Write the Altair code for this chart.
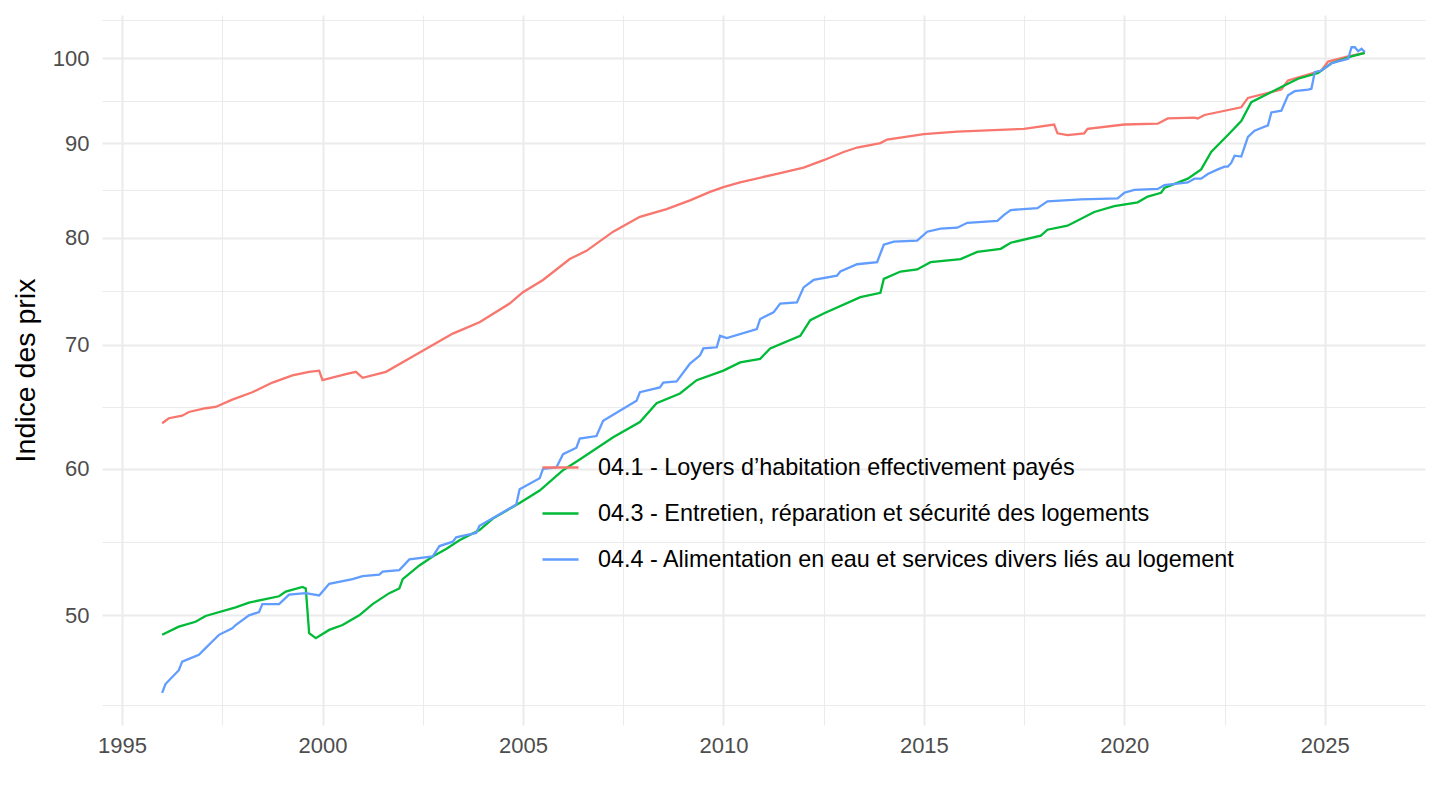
import altair as alt
import pandas as pd

series_names = [
    "04.1 - Loyers d’habitation effectivement payés",
    "04.3 - Entretien, réparation et sécurité des logements",
    "04.4 - Alimentation en eau et services divers liés au logement",
]
series_colors = ["#F8766D", "#00BA38", "#619CFF"]

loyers_dates = [
    "1996-01", "1996-03", "1996-07", "1996-09", "1997-02", "1997-05", "1997-10",
    "1998-04", "1998-10", "1999-04", "1999-09", "1999-12", "2000-01", "2000-08",
    "2000-11", "2001-01", "2001-08", "2002-04", "2002-10", "2003-04", "2003-12",
    "2004-09", "2005-01", "2005-07", "2006-03", "2006-08", "2007-04", "2007-12",
    "2008-08", "2009-03", "2009-09", "2010-01", "2010-06", "2011-06", "2012-01",
    "2012-07", "2013-01", "2013-05", "2013-12", "2014-02", "2015-01", "2015-11",
    "2017-07", "2018-04", "2018-05", "2018-08", "2019-01", "2019-02", "2020-01",
    "2020-11", "2021-02", "2021-10", "2021-11", "2022-01", "2022-12", "2023-02",
    "2023-12", "2024-02", "2024-12", "2025-02", "2025-08", "2026-01",
]
loyers_values = [
    63.5, 63.9, 64.1, 64.4, 64.7, 64.8, 65.4,
    66.0, 66.8, 67.4, 67.7, 67.8, 67.0, 67.5,
    67.7, 67.2, 67.7, 69.0, 70.0, 71.0, 72.0,
    73.7, 74.75, 75.9, 77.9, 78.7, 80.6, 82.1,
    82.9, 83.8, 84.7, 85.2, 85.7, 86.7, 87.3,
    88.1, 89.0, 89.5, 90.0, 90.4, 91.0, 91.3,
    91.6, 92.1, 91.1, 90.9, 91.1, 91.6, 92.1,
    92.2, 92.8, 92.9, 92.8, 93.2, 94.1, 95.2,
    96.2, 97.3, 98.5, 99.6, 100.25, 100.7,
]

entretien_dates = [
    "1996-01", "1996-06", "1996-11", "1997-02", "1997-11", "1998-03", "1998-12",
    "1999-02", "1999-07", "1999-08", "1999-09", "1999-11", "2000-03", "2000-07",
    "2000-12", "2001-04", "2001-09", "2001-12", "2002-01", "2002-06", "2002-10",
    "2003-02", "2003-06", "2003-12", "2004-04", "2004-12", "2005-06", "2006-01",
    "2006-06", "2007-04", "2007-12", "2008-05", "2008-12", "2009-05", "2010-01",
    "2010-06", "2010-12", "2011-03", "2011-12", "2012-03", "2012-07", "2013-06",
    "2013-12", "2014-01", "2014-06", "2014-11", "2015-03", "2015-12", "2016-05",
    "2016-12", "2017-03", "2017-12", "2018-02", "2018-08", "2019-04", "2019-10",
    "2020-05", "2020-08", "2020-12", "2021-01", "2021-08", "2021-12", "2022-03",
    "2022-08", "2022-12", "2023-03", "2023-08", "2023-12", "2024-05", "2024-11",
    "2025-03", "2025-09", "2026-01",
]
entretien_values = [
    48.8, 49.3, 49.6, 49.96, 50.5, 50.8, 51.2,
    51.5, 51.8, 51.7, 48.9, 48.6, 49.1, 49.4,
    50.0, 50.7, 51.4, 51.7, 52.3, 53.2, 53.8,
    54.3, 54.9, 55.6, 56.4, 57.5, 58.4, 59.9,
    60.7, 62.4, 63.6, 65.1, 65.9, 67.0, 67.8,
    68.5, 68.8, 69.7, 70.8, 72.2, 72.8, 74.3,
    74.7, 76.0, 76.7, 76.9, 77.6, 77.9, 78.6,
    78.9, 79.5, 80.2, 80.8, 81.2, 82.6, 83.2,
    83.6, 84.2, 84.6, 85.1, 86.1, 87.1, 89.0,
    90.9, 92.5, 94.7, 95.7, 96.5, 97.5, 98.2,
    99.4, 100.25, 100.7,
]

eau_dates = [
    "1996-01", "1996-02", "1996-06", "1996-07", "1996-12", "1997-02", "1997-04",
    "1997-06", "1997-10", "1997-11", "1998-03", "1998-06", "1998-07", "1998-12",
    "1999-03", "1999-08", "1999-12", "2000-03", "2000-10", "2001-01", "2001-06",
    "2001-07", "2001-12", "2002-03", "2002-10", "2002-12", "2003-04", "2003-05",
    "2003-11", "2003-12", "2004-06", "2004-11", "2004-12", "2005-06", "2005-07",
    "2005-11", "2006-01", "2006-05", "2006-06", "2006-11", "2007-01", "2007-06",
    "2007-11", "2007-12", "2008-06", "2008-07", "2008-11", "2009-03", "2009-06",
    "2009-07", "2009-11", "2009-12", "2010-02", "2010-11", "2010-12", "2011-04",
    "2011-06", "2011-11", "2012-01", "2012-04", "2012-11", "2012-12", "2013-05",
    "2013-11", "2014-01", "2014-04", "2014-11", "2015-02", "2015-06", "2015-11",
    "2016-02", "2016-11", "2017-01", "2017-03", "2017-11", "2018-02", "2018-12",
    "2019-11", "2020-01", "2020-04", "2020-11", "2021-01", "2021-08", "2021-10",
    "2021-12", "2022-02", "2022-05", "2022-07", "2022-08", "2022-09", "2022-10",
    "2022-12", "2023-02", "2023-04", "2023-06", "2023-08", "2023-09", "2023-12",
    "2024-02", "2024-04", "2024-08", "2024-09", "2024-10", "2024-12", "2025-03",
    "2025-08", "2025-09", "2025-10", "2025-11", "2025-12", "2026-01",
]
eau_values = [
    45.4, 45.9, 46.7, 47.2, 47.6, 48.0, 48.4,
    48.8, 49.2, 49.4, 50.0, 50.2, 50.7, 50.7,
    51.3, 51.4, 51.25, 52.0, 52.3, 52.5, 52.6,
    52.8, 52.9, 53.6, 53.8, 54.5, 54.8, 55.1,
    55.4, 55.9, 56.7, 57.4, 58.5, 59.3, 60.0,
    60.1, 61.1, 61.6, 62.3, 62.5, 63.7, 64.5,
    65.3, 66.0, 66.4, 66.8, 66.9, 68.4, 69.1,
    69.7, 69.8, 70.8, 70.6, 71.4, 72.3, 72.9,
    73.7, 73.8, 75.2, 75.9, 76.3, 76.7, 77.4,
    77.6, 79.3, 79.6, 79.7, 80.6, 80.9, 81.0,
    81.5, 81.7, 82.3, 82.8, 83.0, 83.7, 83.9,
    84.0, 84.6, 84.9, 85.0, 85.4, 85.7, 86.1,
    86.1, 86.6, 87.1, 87.4, 87.4, 87.8, 88.6,
    88.5, 90.7, 91.4, 91.7, 92.0, 93.5, 93.7,
    95.5, 96.0, 96.2, 96.3, 98.3, 98.5, 99.4,
    99.96, 101.4, 101.4, 100.9, 101.2, 100.8,
]

x_ticks = [1995, 1997.5, 2000, 2002.5, 2005, 2007.5, 2010, 2012.5, 2015,
           2017.5, 2020, 2022.5, 2025]
y_major = [50, 60, 70, 80, 90, 100]
y_ticks = sorted(y_major + [44.72, 54.77, 64.81, 74.83, 84.85, 94.87, 104.88])

rows = []
for name, dates, values in zip(
    series_names,
    [loyers_dates, entretien_dates, eau_dates],
    [loyers_values, entretien_values, eau_values],
):
    for d, v in zip(dates, values):
        y, m = d.split("-")
        rows.append({"series": name, "t": int(y) + (int(m) - 1) / 12, "value": v})
df = pd.DataFrame(rows)

FONT = "Liberation Sans"
GRID = "#EBEBEB"

chart = alt.Chart(df).mark_line(strokeWidth=2.3).encode(
    x=alt.X(
        "t:Q",
        scale=alt.Scale(domain=[1994.5, 2027.5], nice=False, zero=False),
        axis=alt.Axis(
            values=x_ticks,
            labelExpr="datum.value % 5 === 0 ? format(datum.value, 'd') : ''",
            title=None,
            grid=True,
            gridColor=GRID,
            gridWidth={"condition": {"test": "datum.value % 5 === 0", "value": 2}, "value": 1.1},
            domain=False,
            ticks=False,
            labelFont=FONT,
            labelFontSize=22,
            labelColor="#4D4D4D",
            labelPadding=10,
        ),
    ),
    y=alt.Y(
        "value:Q",
        scale=alt.Scale(type="log", domain=[43.62, 105.55], nice=False, zero=False),
        axis=alt.Axis(
            values=y_ticks,
            labelExpr="datum.value % 10 === 0 ? format(datum.value, 'd') : ''",
            title="Indice des prix",
            titleFont=FONT,
            titleFontSize=28.5,
            titleFontWeight="normal",
            titleColor="#000000",
            titlePadding=12,
            grid=True,
            gridColor=GRID,
            gridWidth={"condition": {"test": "datum.value % 10 === 0", "value": 2}, "value": 1.1},
            domain=False,
            ticks=False,
            labelFont=FONT,
            labelFontSize=22,
            labelColor="#4D4D4D",
            labelPadding=13,
        ),
    ),
    color=alt.Color(
        "series:N",
        scale=alt.Scale(domain=series_names, range=series_colors),
        legend=alt.Legend(
            title=None,
            orient="none",
            legendX=439,
            legendY=433,
            symbolType="stroke",
            symbolSize=1300,
            symbolStrokeWidth=2.3,
            labelFont=FONT,
            labelFontSize=23.4,
            labelColor="#000000",
            labelLimit=1000,
            labelOffset=18,
            rowPadding=15,
            padding=0,
        ),
    ),
).properties(
    width=1323,
    height=710,
    autosize=alt.AutoSizeParams(type="none"),
    padding={"left": 94, "top": 7, "right": 7, "bottom": 70},
    background="white",
).configure_view(stroke=None)

chart.save("out.html", embed_options={"renderer": "svg", "actions": False})
